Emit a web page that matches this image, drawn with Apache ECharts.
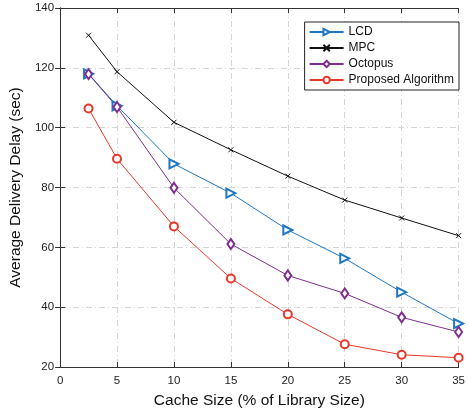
<!DOCTYPE html>
<html>
<head>
<meta charset="utf-8">
<script src="https://cdn.jsdelivr.net/npm/echarts@6/dist/echarts.min.js"></script>
<style>
  html, body { margin: 0; padding: 0; background: #fff; }
  #chart { width: 468px; height: 415px; }
</style>
</head>
<body>
<div id="chart"></div>
<script>
// cache size (% of library size)
var cacheSize = [2.5, 5, 10, 15, 20, 25, 30, 35];
var lcd = [118, 107.3, 87.9, 78.1, 65.8, 56.3, 45, 34.5];
var mpc = [130.9, 118.7, 101.8, 92.6, 83.8, 75.8, 69.8, 63.9];
var octopus = [117.9, 106.9, 79.9, 61.1, 50.6, 44.6, 36.6, 31.7];
var proposed = [106.4, 89.6, 67, 49.6, 37.6, 27.6, 24.1, 23.1];

var xTicks = [0, 5, 10, 15, 20, 25, 30, 35];
var yTicks = [20, 40, 60, 80, 100, 120, 140];

function pairs(vals) {
  return cacheSize.map(function (x, i) { return [x, vals[i]]; });
}

var font = "Liberation Sans, Arial, sans-serif";
var gridLine = { show: true, lineStyle: { color: "#d4d4d4", type: [6, 3, 1, 3], width: 1 } };

var chart = echarts.init(document.getElementById("chart"));
chart.setOption({
  animation: false,
  textStyle: { fontFamily: font },
  grid: { left: 55, right: 7, top: 8, bottom: 48 },
  legend: {
    orient: "vertical",
    right: 9,
    top: 22,
    backgroundColor: "#fff",
    borderColor: "#222",
    borderWidth: 1,
    borderRadius: 0,
    padding: [4, 5, 4, 4],
    itemGap: 4,
    itemWidth: 34,
    itemHeight: 8,
    textStyle: { fontSize: 12, color: "#111", fontFamily: font },
    data: ["LCD", "MPC", "Octopus", "Proposed Algorithm"]
  },
  xAxis: [{
    type: "value",
    min: 0, max: 35, interval: 5,
    name: "Cache Size (% of Library Size)",
    nameLocation: "middle",
    nameGap: 26,
    nameTextStyle: { fontSize: 15.5, color: "#111" },
    axisLine: { lineStyle: { color: "#333" } },
    axisTick: { inside: true, length: 5, lineStyle: { color: "#333" } },
    axisLabel: { fontSize: 11.5, color: "#222", margin: 8,
      formatter: function (v) { return xTicks.indexOf(v) >= 0 ? v : ""; } },
    splitLine: gridLine
  }, {
    type: "value", position: "top",
    min: 0, max: 35, interval: 5,
    axisLine: { lineStyle: { color: "#333" } },
    axisTick: { inside: true, length: 5, lineStyle: { color: "#333" } },
    axisLabel: { show: false },
    splitLine: { show: false }
  }],
  yAxis: [{
    type: "value",
    min: 20, max: 140, interval: 20,
    name: "Average Delivery Delay (sec)",
    nameLocation: "middle",
    nameGap: 35,
    nameTextStyle: { fontSize: 15.5, color: "#111" },
    axisLine: { show: true, lineStyle: { color: "#333" } },
    axisTick: { show: true, inside: true, length: 5, lineStyle: { color: "#333" } },
    axisLabel: { fontSize: 11.5, color: "#222", margin: 6,
      formatter: function (v) { return yTicks.indexOf(v) >= 0 ? v : ""; } },
    splitLine: gridLine
  }, {
    type: "value", position: "right",
    min: 20, max: 140, interval: 20,
    axisLine: { show: true, lineStyle: { color: "#333" } },
    axisTick: { show: true, inside: true, length: 5, lineStyle: { color: "#333" } },
    axisLabel: { show: false },
    splitLine: { show: false }
  }],
  series: [
    {
      name: "LCD", type: "line", data: pairs(lcd),
      symbol: "emptyTriangle", symbolSize: 9, symbolRotate: -90,
      lineStyle: { color: "#1f77c4", width: 1 },
      itemStyle: { color: "#1f77c4", borderWidth: 1 }
    },
    {
      name: "MPC", type: "line", data: pairs(mpc),
      symbol: "path://M0,0L10,10M10,0L0,10", symbolSize: 5,
      lineStyle: { color: "#111", width: 1 },
      itemStyle: { color: "#111", borderColor: "#111", borderWidth: 1 }
    },
    {
      name: "Octopus", type: "line", data: pairs(octopus),
      symbol: "emptyDiamond", symbolSize: [7, 10],
      lineStyle: { color: "#7e2f8e", width: 1 },
      itemStyle: { color: "#7e2f8e", borderWidth: 1 }
    },
    {
      name: "Proposed Algorithm", type: "line", data: pairs(proposed),
      symbol: "emptyCircle", symbolSize: 8,
      lineStyle: { color: "#e8382c", width: 1 },
      itemStyle: { color: "#e8382c", borderWidth: 1 }
    }
  ]
});
</script>
</body>
</html>
